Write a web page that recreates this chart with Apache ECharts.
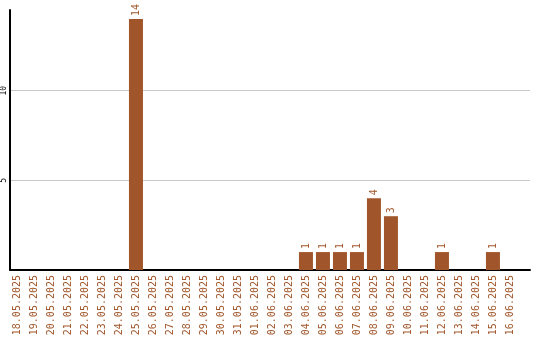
<!DOCTYPE html>
<html>
<head>
<meta charset="utf-8">
<script src="https://cdn.jsdelivr.net/npm/echarts@6/dist/echarts.min.js"></script>
<style>html,body{margin:0;padding:0;background:#fff}#c{width:540px;height:340px}</style>
</head>
<body>
<div id="c"></div>
<script>
const dates = ["18.05.2025","19.05.2025","20.05.2025","21.05.2025","22.05.2025","23.05.2025","24.05.2025","25.05.2025","26.05.2025","27.05.2025","28.05.2025","29.05.2025","30.05.2025","31.05.2025","01.06.2025","02.06.2025","03.06.2025","04.06.2025","05.06.2025","06.06.2025","07.06.2025","08.06.2025","09.06.2025","10.06.2025","11.06.2025","12.06.2025","13.06.2025","14.06.2025","15.06.2025","16.06.2025"];
const counts = [0,0,0,0,0,0,0,14,0,0,0,0,0,0,0,0,0,1,1,1,1,4,3,0,0,1,0,0,1,0];
const yTicks = [5,10];

const idx = dates.map((d,i)=>i);
const chart = echarts.init(document.getElementById('c'), null, {renderer:'canvas'});
const brown = '#a0562a';
chart.setOption({
  animation:false,
  grid:{left:10,right:10,top:10,bottom:70,containLabel:false,outerBoundsMode:'none'},
  xAxis:{
    type:'value', min:-0.41, max:30.18,
    axisLine:{show:true,onZero:false,lineStyle:{color:'#000',width:2}},
    axisTick:{show:false},
    splitLine:{show:false},
    axisLabel:{customValues:idx, rotate:90, color:brown, fontFamily:'DejaVu Sans Mono', fontSize:10, margin:5,
      formatter:v=>dates[Math.round(v)]}
  },
  yAxis:{
    type:'value', min:0, max:14.5, interval:5,
    axisLine:{show:true,onZero:false,lineStyle:{color:'#000',width:2}},
    axisTick:{show:false},
    splitLine:{show:false},
    axisLabel:{customValues:yTicks, rotate:90, color:'#000', fontFamily:'DejaVu Sans Mono', fontSize:8, margin:2}
  },
  series:[{
    type:'bar', barWidth:14,
    data: idx.map(i=>[i, counts[i]===0?null:counts[i]]),
    itemStyle:{color:brown},
    label:{show:true, position:'top', rotate:90, align:'left', verticalAlign:'middle', distance:3,
      color:brown, fontFamily:'DejaVu Sans Mono', fontSize:10, formatter:p=>p.value[1]},
    markLine:{silent:true, symbol:'none', label:{show:false}, z:0,
      lineStyle:{color:'#c8c8c8', type:'solid', width:1},
      data: yTicks.map(t=>({yAxis:t}))}
  }]
});
</script>
</body>
</html>
